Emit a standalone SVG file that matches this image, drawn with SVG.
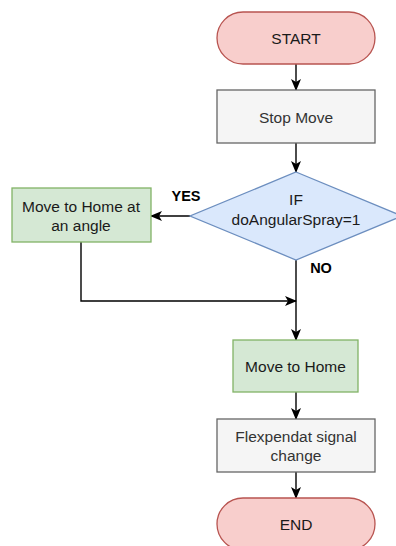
<svg xmlns="http://www.w3.org/2000/svg" width="396" height="546" viewBox="0 0 396 546">
  <style>
    .lbl { font-family: "Liberation Sans", Arial, sans-serif; font-size: 15.5px; text-anchor: middle; dominant-baseline: central; }
    .dark { fill: #1a1a1a; }
    .grey { fill: #333333; }
    .bold { font-weight: bold; font-size: 14.5px; fill: #000; }
    .terminal { fill: #f8cecc; stroke: #b85450; stroke-width: 1.3; }
    .process { fill: #f5f5f5; stroke: #666666; stroke-width: 1.3; }
    .action { fill: #d5e8d4; stroke: #82b366; stroke-width: 1.3; }
    .decision { fill: #dae8fc; stroke: #6c8ebf; stroke-width: 1.3; }
    .edge { fill: none; stroke: #000; stroke-width: 1.4; marker-end: url(#arrow); }
  </style>
  <defs>
    <marker id="arrow" viewBox="0 0 12 10" refX="11" refY="5" markerWidth="12" markerHeight="10" markerUnits="userSpaceOnUse" orient="auto">
      <path d="M0,0 L12,5 L0,10 L3,5 Z" fill="#000"/>
    </marker>
  </defs>
  <rect width="396" height="546" fill="#ffffff"/>

  <g id="connectors">
    <path class="edge" d="M296,64 L296,90"/>
    <path class="edge" d="M296,143 L296,172"/>
    <path class="edge" d="M190,216 L151,216"/>
    <path class="edge" d="M81,242 L81,301 L296,301"/>
    <path class="edge" d="M296,260 L296,340"/>
    <path class="edge" d="M296,392 L296,419"/>
    <path class="edge" d="M296,472 L296,498"/>
    <text class="lbl bold" x="186" y="196">YES</text>
    <text class="lbl bold" x="321" y="268">NO</text>
  </g>

  <g id="start">
    <rect class="terminal" x="217" y="12" width="158" height="52" rx="26"/>
    <text class="lbl dark" x="296" y="38">START</text>
  </g>

  <g id="stop-move">
    <rect class="process" x="217" y="90" width="158" height="53"/>
    <text class="lbl grey" x="296" y="117">Stop Move</text>
  </g>

  <g id="decision">
    <path class="decision" d="M296,172 L402,216 L296,260 L190,216 Z"/>
    <text class="lbl dark" x="296" y="199">IF</text>
    <text class="lbl dark" x="296" y="219">doAngularSpray=1</text>
  </g>

  <g id="home-angle">
    <rect class="action" x="12" y="188" width="139" height="54"/>
    <text class="lbl dark" x="81" y="206">Move to Home at</text>
    <text class="lbl dark" x="81" y="225">an angle</text>
  </g>

  <g id="home">
    <rect class="action" x="233" y="340" width="125" height="52"/>
    <text class="lbl dark" x="295.5" y="366.5">Move to Home</text>
  </g>

  <g id="signal">
    <rect class="process" x="217" y="419" width="158" height="53"/>
    <text class="lbl grey" x="296" y="436">Flexpendat signal</text>
    <text class="lbl grey" x="296" y="455">change</text>
  </g>

  <g id="end">
    <rect class="terminal" x="217" y="498" width="158" height="52" rx="26"/>
    <text class="lbl dark" x="296" y="524">END</text>
  </g>
</svg>
